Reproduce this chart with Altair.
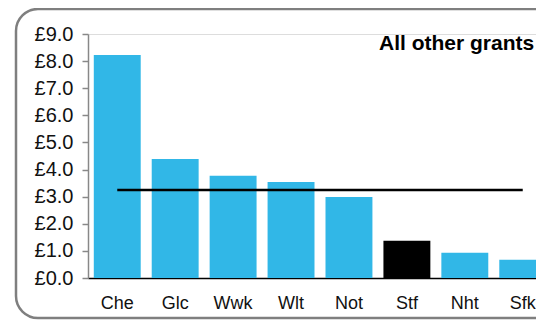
import altair as alt
import pandas as pd

categories = ["Che", "Glc", "Wwk", "Wlt", "Not", "Stf", "Nht", "Sfk"]
values = [8.23, 4.39, 3.77, 3.54, 2.99, 1.37, 0.93, 0.67]
highlight = ["Stf"]
average = 3.25
title_text = "All other grants"
y_ticks = [0, 1, 2, 3, 4, 5, 6, 7, 8, 9]

df = pd.DataFrame({
    "cat": categories,
    "val": values,
    "hl": ["yes" if c in highlight else "no" for c in categories],
})

FONT = "Liberation Sans"

xscale = alt.Scale(domain=categories, paddingInner=0.19, paddingOuter=0.1)
yscale = alt.Scale(domain=[0, 9], nice=False)

xaxis = alt.Axis(title=None, labelAngle=0, ticks=False, labelPadding=16,
                 labelFontSize=18, labelFont=FONT, labelColor="#111111",
                 labelOverlap=False, domainColor="#000000", domainWidth=1.5)
yaxis = alt.Axis(title=None, values=y_ticks, grid=False, labelOverlap=False,
                 labelExpr="'£' + format(datum.value, '.1f')",
                 labelFontSize=20, labelFont=FONT, labelColor="#111111",
                 labelPadding=9, tickSize=6, tickColor="#888888",
                 tickWidth=1.5, domainColor="#888888", domainWidth=1.5)

bars = alt.Chart(df).mark_bar().encode(
    x=alt.X("cat:N", scale=xscale, sort=categories, axis=xaxis),
    y=alt.Y("val:Q", scale=yscale, axis=yaxis),
    color=alt.Color("hl:N", scale=alt.Scale(domain=["no", "yes"], range=["#31B7E7", "#000000"]),
                    legend=None),
)

avg_df = pd.DataFrame({"cat": [categories[0]], "cat2": [categories[-1]], "avg": [average]})
rule = alt.Chart(avg_df).mark_rule(color="#000000", strokeWidth=2.5).encode(
    x=alt.X("cat:N", scale=xscale, sort=categories, axis=xaxis),
    x2="cat2:N",
    y=alt.Y("avg:Q", scale=yscale, axis=yaxis),
)

title_df = pd.DataFrame({"t": [title_text]})
title = alt.Chart(title_df).mark_text(
    font=FONT, fontSize=21, fontWeight="bold", align="left", baseline="alphabetic", color="#000000"
).encode(text="t:N", x=alt.value(291), y=alt.value(16))

border_df = pd.DataFrame({"a": [0]})
border = alt.Chart(border_df).mark_rect(
    fillOpacity=0, stroke="#7f7f7f", strokeWidth=2.5, cornerRadius=22
).encode(x=alt.value(-72), x2=alt.value(468), y=alt.value(-25), y2=alt.value(284))

chart = alt.layer(border, bars, rule, title).properties(
    width=464, height=244,
    autosize=alt.AutoSizeParams(type="none"),
    padding={"left": 80, "top": 26, "right": -16, "bottom": 42},
).configure_view(strokeWidth=0, stroke="transparent").configure(background="#ffffff")

chart.save("out.html", embed_options={"renderer": "svg", "actions": False})
